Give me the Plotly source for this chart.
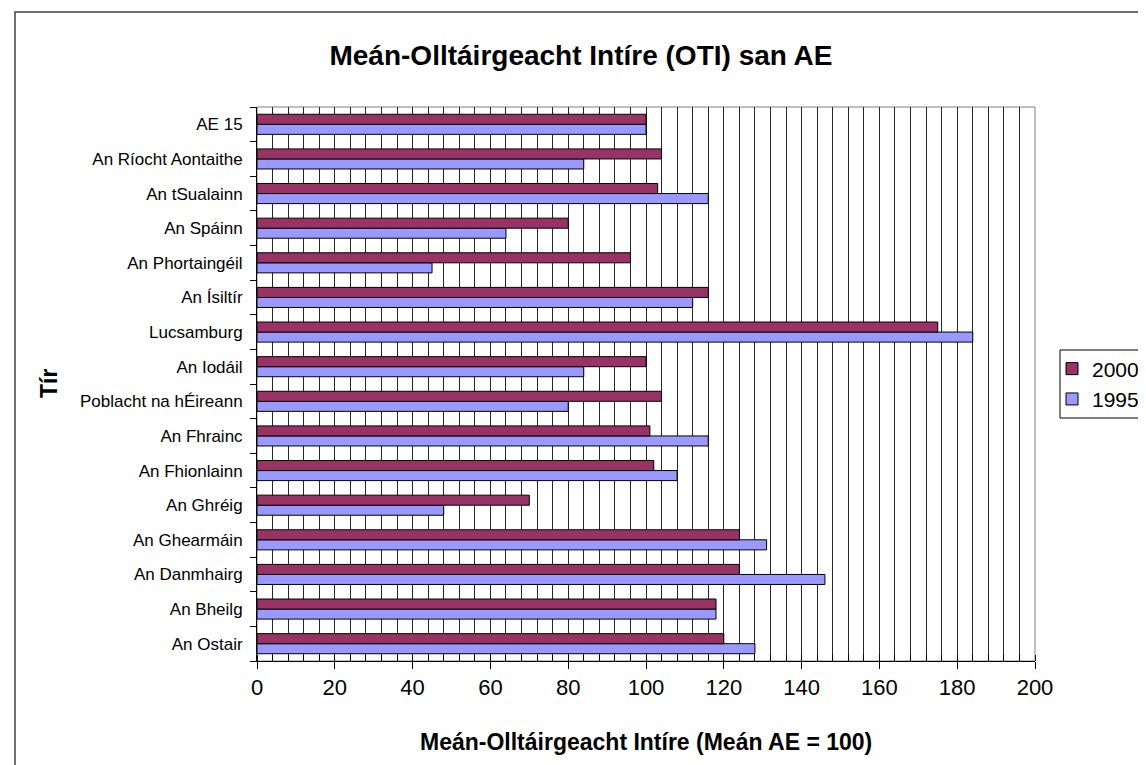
import plotly.graph_objects as go

# Categories listed top-to-bottom as in the reference
countries = [
    "AE 15", "An Ríocht Aontaithe", "An tSualainn", "An Spáinn",
    "An Phortaingéil", "An Ísiltír", "Lucsamburg", "An Iodáil",
    "Poblacht na hÉireann", "An Fhrainc", "An Fhionlainn", "An Ghréig",
    "An Ghearmáin", "An Danmhairg", "An Bheilg", "An Ostair",
]
values_2000 = [100, 104, 103, 80, 96, 116, 175, 100, 104, 101, 102, 70, 124, 124, 118, 120]
values_1995 = [100, 84, 116, 64, 45, 112, 184, 84, 80, 116, 108, 48, 131, 146, 118, 128]
x_ticks = [0, 20, 40, 60, 80, 100, 120, 140, 160, 180, 200]

title_text = "Meán-Olltáirgeacht Intíre (OTI) san AE"
x_title = "Meán-Olltáirgeacht Intíre (Meán AE = 100)"
y_title = "Tír"

FONT = "Liberation Sans, Arial, sans-serif"

# plotly draws categories bottom-up, so reverse
cats = countries[::-1]
v2000 = values_2000[::-1]
v1995 = values_1995[::-1]

fig = go.Figure()
fig.add_trace(go.Bar(
    y=cats, x=v1995, orientation="h", name="1995",
    marker=dict(color="#9999FF", line=dict(color="black", width=1)),
))
fig.add_trace(go.Bar(
    y=cats, x=v2000, orientation="h", name="2000",
    marker=dict(color="#993366", line=dict(color="black", width=1)),
))

W, H = 1146, 765
L, R, T, B = 249, 1027, 99, 653
pw, ph = R - L, B - T


def px_x(px):
    return (px - L) / pw


def px_y(py):
    return (B - py) / ph


GRID = "#262626"

fig.update_layout(
    width=W, height=H,
    margin=dict(l=L, r=W - R, t=T, b=H - B, autoexpand=False),
    paper_bgcolor="white", plot_bgcolor="white",
    barmode="group", bargap=0.42, bargroupgap=0,
    font=dict(family=FONT, color="black", size=17),
    title=dict(text="<b>" + title_text + "</b>", x=0.5, xanchor="center",
               y=1 - 47 / H, yanchor="middle",
               font=dict(family=FONT, size=28, color="black")),
    showlegend=True,
    legend=dict(x=px_x(1044), xanchor="left", y=px_y(376), yanchor="middle",
                traceorder="reversed", borderwidth=0,
                bgcolor="rgba(0,0,0,0)",
                font=dict(family=FONT, size=21, color="black"),
                itemwidth=30, tracegroupgap=0),
    xaxis=dict(
        range=[0, 200], tickvals=x_ticks, ticktext=[str(v) for v in x_ticks],
        showgrid=True, gridcolor=GRID, gridwidth=1,
        minor=dict(dtick=4, showgrid=True, gridcolor=GRID, gridwidth=1,
                   ticks="inside", ticklen=6, tickcolor="black"),
        ticks="outside", ticklen=7, tickcolor="black",
        showline=True, linecolor="black", linewidth=1,
        zeroline=False, tickfont=dict(size=22, family=FONT),
        fixedrange=True,
    ),
    yaxis=dict(
        type="category", categoryorder="array", categoryarray=cats,
        tickson="boundaries", ticks="outside", ticklen=6, tickcolor="black",
        showline=True, linecolor="black", linewidth=1, showgrid=False,
        tickfont=dict(size=17, family=FONT), ticklabelstandoff=10,
        fixedrange=True,
    ),
    shapes=[
        # plot area border (gray)
        dict(type="rect", xref="paper", yref="paper", x0=0, x1=1, y0=0, y1=1,
             line=dict(color="#808080", width=1), layer="below"),
        # outer chart border
        dict(type="rect", xref="paper", yref="paper",
             x0=px_x(7), x1=px_x(1152), y0=px_y(760), y1=px_y(4),
             line=dict(color="#404040", width=1.5), layer="below"),
        # legend box
        dict(type="rect", xref="paper", yref="paper",
             x0=px_x(1052), x1=px_x(1152), y0=px_y(410), y1=px_y(342),
             line=dict(color="black", width=1), fillcolor="white",
             layer="below"),
    ],
    annotations=[
        dict(text="<b>" + x_title + "</b>", xref="paper", yref="paper",
             x=0.5, y=px_y(734), xanchor="center", yanchor="middle",
             showarrow=False, font=dict(family=FONT, size=23, color="black")),
        dict(text="<b>" + y_title + "</b>", xref="paper", yref="paper",
             x=px_x(41), y=0.5, xanchor="center", yanchor="middle",
             textangle=-90, showarrow=False,
             font=dict(family=FONT, size=23, color="black")),
    ],
)

fig.write_html("out.html")
